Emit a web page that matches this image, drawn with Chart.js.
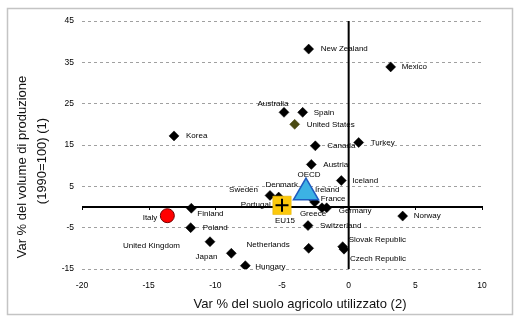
<!DOCTYPE html>
<html><head><meta charset="utf-8">
<script src="https://cdn.jsdelivr.net/npm/chart.js@4/dist/chart.umd.min.js"></script>
<style>html,body{margin:0;padding:0;background:#fff}#c{display:block}</style>
</head><body>
<canvas id="c" width="522" height="325"></canvas>
<script>
// ---- data ----
const countries = ['Korea','New Zealand','Mexico','Australia','Spain','Canada','Turkey','Austria','Iceland','Sweden','Denmark','Portugal','Ireland','France','Greece','Germany','Finland','Poland','United Kingdom','Japan','Hungary','Netherlands','Switzerland','Slovak Republic','Czech Republic','Norway'];
const landChange = [-13.1,-3.0,3.15,-4.85,-3.45,-2.5,0.75,-2.8,-0.55,-5.9,-5.25,-5.1,-2.9,-2.55,-2.0,-1.65,-11.8,-11.85,-10.4,-8.8,-7.75,-3.0,-3.05,-0.45,-0.35,4.05];
const volumeChange = [17.2,38.2,33.9,22.9,22.9,14.8,15.6,10.3,6.4,2.8,2.4,1.0,2.6,1.2,-0.2,-0.2,-0.3,-5.0,-8.4,-11.2,-14.2,-10.0,-4.5,-9.6,-10.2,-2.2];
const usName = ['United States'];  const usX = [-4.05];  const usY = [20.0];
const italyName = ['Italy'];       const italyX = [-13.6]; const italyY = [-2.1];
const oecdName = ['OECD'];         const oecdX = [-3.2];   const oecdY = [3.5];
const eu15Name = ['EU15'];         const eu15X = [-5.0];   const eu15Y = [0.4];
const xTicks = [-20,-15,-10,-5,0,5,10];
const yTicks = [-15,-5,5,15,25,35,45];
const xTitle = 'Var % del suolo agricolo utilizzato (2)';
const yTitle1 = 'Var % del volume di produzione';
const yTitle2 = '(1990=100) (1)';

// ---- label placement (pixel offsets from marker) ----
const R = 12;
const labelPos = {
  'Korea':[R,0,'left'],'New Zealand':[R,0,'left'],'Mexico':[11,0,'left'],
  'Australia':[-11,-9,'center'],'Spain':[11,0,'left'],'United States':[12,0,'left'],
  'Canada':[R,0,'left'],'Turkey':[R,0,'left'],'Austria':[R,0,'left'],'Iceland':[11,0,'left'],
  'Sweden':[-12,-6,'right'],'Denmark':[3,-12,'center'],'Portugal':[-10,2,'right'],
  'Ireland':[5,-6,'left'],'France':[6,-3,'left'],'Greece':[-9,6,'center'],'Germany':[12,3,'left'],
  'Finland':[6,6,'left'],'Poland':[12,0,'left'],'United Kingdom':[-30,4,'right'],
  'Japan':[-14,4,'right'],'Hungary':[10,1,'left'],'Netherlands':[-19,-4,'right'],
  'Switzerland':[12,0,'left'],'Slovak Republic':[6,-7,'left'],'Czech Republic':[6,10,'left'],
  'Norway':[11,0,'left'],'Italy':[-10,2,'right'],'OECD':[3,-18,'center'],'EU15':[3,15,'center']
};

const FONT = "'Liberation Sans', Arial, sans-serif";
const pts = (xs, ys) => xs.map((x, i) => ({x: x, y: ys[i]}));

const overlay = {
  id: 'overlay',
  beforeDraw(chart) {
    const ctx = chart.ctx;
    ctx.save();
    ctx.fillStyle = '#fff';
    ctx.fillRect(0, 0, chart.width, chart.height);
    ctx.strokeStyle = '#c4c4c4';
    ctx.lineWidth = 1.5;
    ctx.strokeRect(7.5, 8.5, 505, 306);
    ctx.restore();
  },
  beforeDatasetsDraw(chart) {
    const ctx = chart.ctx;
    const xs = chart.scales.x, ys = chart.scales.y;
    ctx.save();
    // data labels
    ctx.font = '8px ' + FONT;
    ctx.fillStyle = '#000';
    ctx.textBaseline = 'middle';
    chart.data.datasets.forEach((ds, di) => {
      if (!ds.names) return;
      const meta = chart.getDatasetMeta(di);
      meta.data.forEach((el, i) => {
        const name = ds.names[i];
        const p = labelPos[name] || [R, 0, 'left'];
        ctx.textAlign = p[2];
        ctx.fillText(name, el.x + p[0], el.y + p[1]);
      });
    });
    // axes crossing at zero
    const x0 = xs.getPixelForValue(0), y0 = ys.getPixelForValue(0);
    ctx.strokeStyle = '#000';
    ctx.lineWidth = 2;
    ctx.beginPath();
    ctx.moveTo(xs.getPixelForValue(xTicks[0]), y0);
    ctx.lineTo(xs.getPixelForValue(xTicks[xTicks.length - 1]), y0);
    ctx.moveTo(x0, ys.getPixelForValue(yTicks[yTicks.length - 1]));
    ctx.lineTo(x0, ys.getPixelForValue(yTicks[0]));
    ctx.stroke();
    ctx.lineWidth = 1;
    ctx.beginPath();
    xTicks.forEach(v => {
      const px = Math.round(xs.getPixelForValue(v)) + 0.5;
      ctx.moveTo(px, y0 - 1);
      ctx.lineTo(px, y0 + 3);
    });
    ctx.stroke();
    ctx.restore();
  },
  afterDraw(chart) {
    const ctx = chart.ctx;
    ctx.save();
    ctx.fillStyle = '#111';
    ctx.font = '13px ' + FONT;
    ctx.textAlign = 'center';
    ctx.textBaseline = 'middle';
    ctx.fillText(xTitle, 300, 304);
    ctx.translate(22, 167);
    ctx.rotate(-Math.PI / 2);
    ctx.fillText(yTitle1, 0, 0);
    ctx.restore();
    ctx.save();
    ctx.fillStyle = '#111';
    ctx.font = '13px ' + FONT;
    ctx.textAlign = 'center';
    ctx.textBaseline = 'middle';
    ctx.translate(42, 161);
    ctx.rotate(-Math.PI / 2);
    ctx.fillText(yTitle2, 0, 0);
    ctx.restore();
  }
};

new Chart(document.getElementById('c'), {
  type: 'scatter',
  data: {
    datasets: [
      { data: pts(eu15X, eu15Y), pointStyle: 'cross', pointRadius: 6.5, borderColor: '#000', borderWidth: 2 },
      { names: eu15Name, data: pts(eu15X, eu15Y), pointStyle: 'rect', pointRadius: 13, backgroundColor: '#fcc80c', borderColor: '#e0b000', borderWidth: 0.5 },
      { names: oecdName, data: pts(oecdX, oecdY), pointStyle: 'triangle', pointRadius: 14.5, backgroundColor: '#3cb2e4', borderColor: '#1f5cc0', borderWidth: 1.5 },
      { names: italyName, data: pts(italyX, italyY), pointStyle: 'circle', pointRadius: 7, backgroundColor: '#ff0000', borderColor: '#700000', borderWidth: 1 },
      { names: usName, data: pts(usX, usY), pointStyle: 'rectRot', pointRadius: 5, backgroundColor: '#4a4a12', borderColor: '#4a4a12', borderWidth: 0.5 },
      { names: countries, data: pts(landChange, volumeChange), pointStyle: 'rectRot', pointRadius: 5, backgroundColor: '#000', borderColor: '#000', borderWidth: 0.5 }
    ]
  },
  options: {
    responsive: false,
    animation: false,
    events: [],
    layout: { padding: { left: 0, right: 40, top: 21, bottom: 0 } },
    plugins: { legend: { display: false }, tooltip: { enabled: false } },
    scales: {
      x: {
        type: 'linear', min: xTicks[0], max: xTicks[xTicks.length - 1],
        afterBuildTicks: s => { s.ticks = xTicks.map(v => ({ value: v })); },
        ticks: { color: '#000', font: { family: FONT, size: 8.5 }, padding: 12 },
        grid: { display: false, drawTicks: false },
        border: { display: false },
        afterFit: s => { s.height = 56; }
      },
      y: {
        type: 'linear', min: yTicks[0], max: yTicks[yTicks.length - 1],
        afterBuildTicks: s => { s.ticks = yTicks.map(v => ({ value: v })); },
        ticks: { color: '#000', font: { family: FONT, size: 8.5 }, padding: 8 },
        grid: { color: '#a0a0a0', lineWidth: 1, drawTicks: false },
        border: { display: false, dash: [3, 3] },
        afterFit: s => { s.width = 82; }
      }
    }
  },
  plugins: [overlay]
});
</script>
</body></html>
